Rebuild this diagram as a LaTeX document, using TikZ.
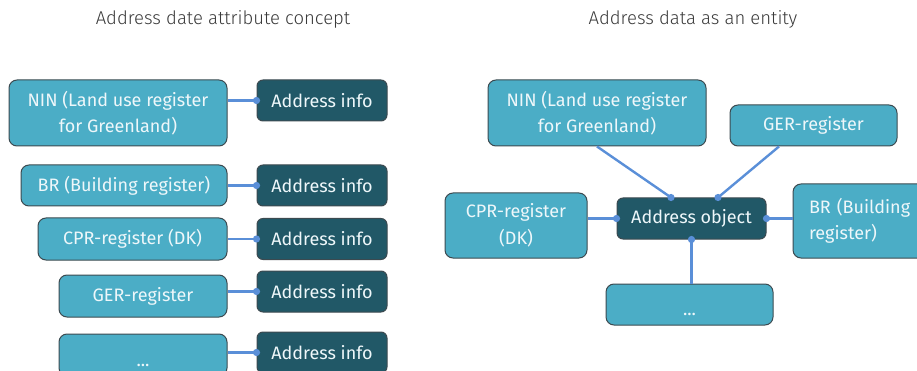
\documentclass[tikz,border=0pt]{standalone}
\usepackage{fontspec}
\setmainfont{Fira Sans}
\newfontfamily\headfont{Fira Sans Light}
\definecolor{regfill}{HTML}{4BADC6}
\definecolor{infofill}{HTML}{215867}
\definecolor{edgec}{HTML}{3C4A50}
\definecolor{linkc}{HTML}{5A8FD8}
\definecolor{boxtext}{HTML}{EEF7FA}
\definecolor{titletext}{HTML}{3A3A3A}
\tikzset{
  reg/.style={draw=edgec, line width=1pt, fill=regfill, rounded corners=8pt,
    text=boxtext, inner sep=0pt, align=center,
    font=\fontsize{18}{26.5}\selectfont},
  info/.style={draw=edgec, line width=1pt, fill=infofill, rounded corners=6pt,
    text=boxtext, inner sep=0pt, minimum width=130pt, minimum height=41pt,
    font=\fontsize{18}{26.5}\selectfont},
  dotsbox/.style={reg, text height=22pt, text depth=0pt},
  link/.style={draw=linkc, line width=2.4pt},
  joint/.style={fill=linkc},
  heading/.style={text=titletext, font=\headfont\fontsize{18.5}{22}\selectfont}
}
\begin{document}
\begin{tikzpicture}[x=1pt,y=-1pt]
\useasboundingbox (0,0) rectangle (917,371);

% headings
\node[heading] (tl) at (223,19) {Address date attribute concept};
\node[heading] (tr) at (693,19) {Address data as an entity};

% ---- attribute concept: each register keeps its own address info
\node[reg, minimum width=218pt, minimum height=66pt] (lnin) at (118,113) {NIN (Land use register\\for Greenland)};
\node[reg, minimum width=206pt, minimum height=41pt] (lbr) at (124,185.5) {BR (Building register)};
\node[reg, minimum width=189pt, minimum height=42pt] (lcpr) at (132.5,239) {CPR-register (DK)};
\node[reg, minimum width=168pt, minimum height=42pt] (lger) at (143,296) {GER-register};
\node[dotsbox, minimum width=168pt, minimum height=42pt] (ldots) at (143,355) {...};

\node[info] (la1) at (322,100.5) {Address info};
\node[info] (la2) at (322,185.5) {Address info};
\node[info] (la3) at (322,239) {Address info};
\node[info] (la4) at (322,291.5) {Address info};
\node[info] (la5) at (322,352.5) {Address info};

\foreach \r/\a in {lnin/la1, lbr/la2, lcpr/la3, lger/la4, ldots/la5}{
  \draw[link] (\a.west) -- (\a.west -| \r.east);
  \fill[joint] (\a.west) circle (3.6pt);
}

% ---- entity: one address object shared by all registers
\node[info, minimum width=149pt] (ao) at (691.5,218.5) {Address object};
\node[reg, minimum width=218pt, minimum height=66pt] (rnin) at (597,113) {NIN (Land use register\\for Greenland)};
\node[reg, minimum width=167pt, minimum height=41pt] (rger) at (813.5,125.5) {GER-register};
\node[reg, minimum width=142pt, minimum height=65pt] (rcpr) at (516,225.5) {CPR-register\\(DK)};
\node[reg, minimum height=74pt, text width=135pt, inner xsep=16pt, align=left] (rbr) at (876.5,221) {BR (Building\\register)};
\node[dotsbox, minimum width=167pt, minimum height=41pt] (rdots) at (689.5,304.5) {...};

\coordinate (aonin) at ([xshift=-20.5pt]ao.north);
\coordinate (aoger) at ([xshift=26.5pt]ao.north);
\coordinate (ninfoot) at (rnin.south);
\coordinate (gerfoot) at ([xshift=-34.5pt]rger.south);

\draw[link] (ninfoot) -- (aonin);
\draw[link] (gerfoot) -- (aoger);
\draw[link] (ao.west) -- (ao.west -| rcpr.east);
\draw[link] (ao.east) -- (ao.east -| rbr.west);
\draw[link] (ao.south) -- (ao.south |- rdots.north);
\foreach \p in {aonin, aoger, ao.west, ao.east, ao.south}
  \fill[joint] (\p) circle (3.6pt);
\end{tikzpicture}
\end{document}
